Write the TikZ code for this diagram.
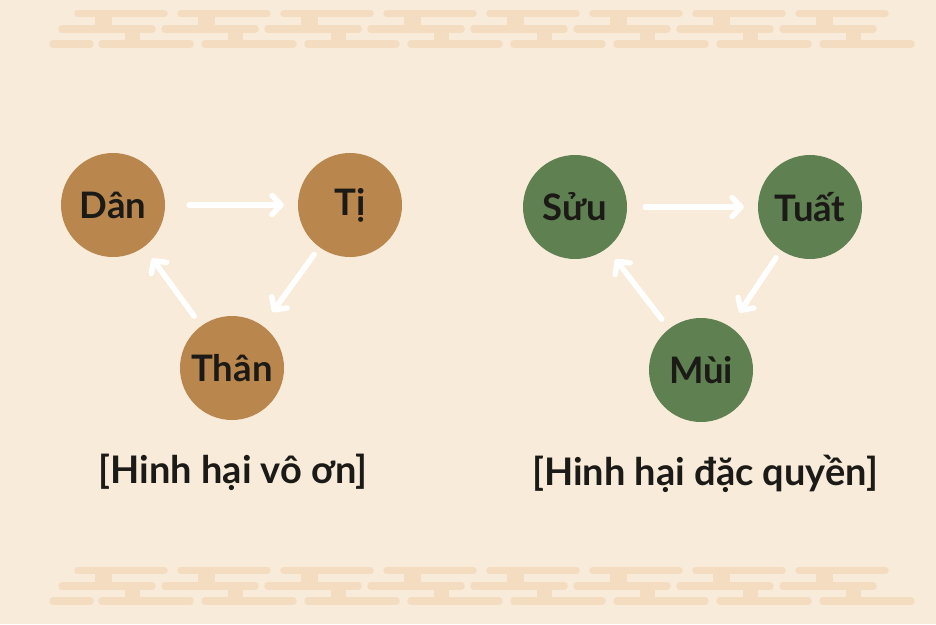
\documentclass[tikz,border=0pt]{standalone}
\usepackage{fontspec}
\setmainfont{Lato}
\usepackage{tikz}
\usetikzlibrary{arrows.meta}
\definecolor{paper}{HTML}{F8EBDA}
\definecolor{cloud}{HTML}{F3DCC0}
\definecolor{earth}{HTML}{B9874D}
\definecolor{leaf}{HTML}{5F8152}
\definecolor{ink}{HTML}{1C1A17}

\begin{document}
\begin{tikzpicture}
    [
        x=1pt, y=-1pt,
        branch/.style={circle, minimum size=104pt, inner sep=0pt, text=ink, font=\fontsize{36.5}{36.5}\selectfont\bfseries},
        harm/.style={-{Straight Barb[length=9pt,width=19pt,line cap=round,line join=round]}, line width=5.5pt, white, line cap=round, shorten <=12pt, shorten >=14pt},
        caption/.style={text=ink, font=\fontsize{38}{38}\selectfont\bfseries},
        cloudbar/.style={cloud, line width=7.5pt, line cap=round}
    ]
    \useasboundingbox (0,0) rectangle (936,624);
    \fill[paper] (0,0) rectangle (936,624);
    % cloud bands, top and bottom
    \foreach \dy in {0,557} {
        \begin{scope}[shift={(0,\dy)}]
            \draw[cloudbar] (53,44) -- (90,44);
            \foreach \u in {78,181,...,799} {
                \draw[cloudbar] (\u,13.5) -- ({\u+86},13.5);
                \draw[cloudbar] ({\u-16},29) -- ({\u+74},29);
                \draw[cloudbar] ({\u+24},44) -- ({\u+112},44);
                \fill[cloud] ({\u+17},13.5) rectangle ({\u+34},29);
                \fill[cloud] ({\u+47},29) rectangle ({\u+62},44);
            }
        \end{scope}
    }
    % left triangle
    \node[branch, fill=earth] (dan) at (113,205) {Dân};
    \node[branch, fill=earth] (ti) at (350,205) {Tị};
    \node[branch, fill=earth] (than) at (232,368) {Thân};
    \draw[harm, shorten <=24pt] (dan) -- (ti);
    \draw[harm, shorten <=9pt, shorten >=17pt] (ti) -- (than);
    \draw[harm] (than) -- (dan);
    \node[caption] (voon) at (233,472) {[Hinh hại vô ơn]};
    % right triangle
    \node[branch, fill=leaf] (suu) at (575,207) {Sửu};
    \node[branch, fill=leaf] (tuat) at (810,207) {Tuất};
    \node[branch, fill=leaf] (mui) at (701,370) {Mùi};
    \draw[harm, shorten <=18pt] (suu) -- (tuat);
    \draw[harm, shorten <=9pt, shorten >=17pt] (tuat) -- (mui);
    \draw[harm] (mui) -- (suu);
    \node[caption] (dacquyen) at (705,474) {[Hinh hại đặc quyền]};
\end{tikzpicture}
\end{document}
